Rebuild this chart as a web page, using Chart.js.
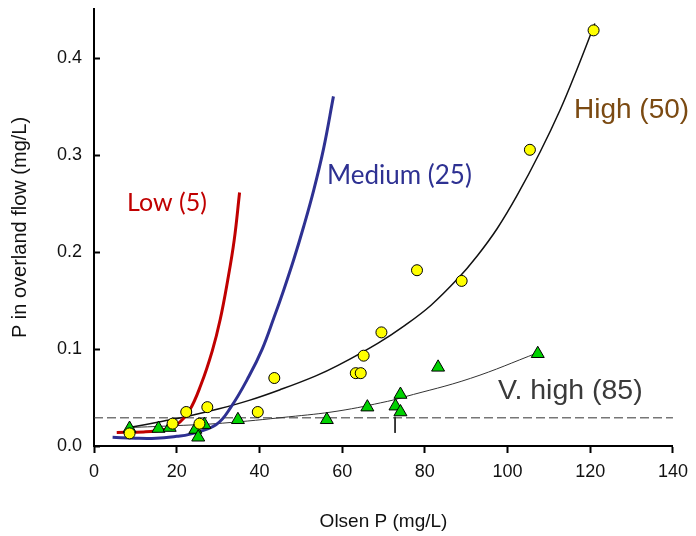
<!DOCTYPE html>
<html>
<head>
<meta charset="utf-8">
<script src="https://cdn.jsdelivr.net/npm/chart.js"></script>
<style>
  html, body { margin: 0; padding: 0; background: #fff; }
  #wrap { width: 696px; height: 536px; }
</style>
</head>
<body>
<div id="wrap"><canvas id="chart" width="696" height="536"></canvas></div>
<script>
const circleX = [8.6, 19.0, 22.3, 25.5, 27.4, 39.6, 43.6, 63.3, 64.5, 65.2, 69.5, 78.1, 88.9, 105.4, 120.8];
const circleY = [0.013, 0.023, 0.035, 0.023, 0.040, 0.035, 0.070, 0.075, 0.075, 0.093, 0.117, 0.181, 0.170, 0.305, 0.428];
const triX = [8.6, 15.6, 18.3, 24.5, 25.2, 26.7, 34.8, 56.3, 66.1, 72.9, 74.1, 74.1, 83.2, 107.3];
const triY = [0.018, 0.018, 0.019, 0.017, 0.009, 0.022, 0.027, 0.027, 0.040, 0.041, 0.053, 0.035, 0.081, 0.095];

// fitted curves
const lowX = [5.5, 12, 17, 20, 23, 25.9, 28.6, 30.5, 32.3, 33.9, 35.2];
const lowY = [0.014, 0.0145, 0.017, 0.022, 0.036, 0.0635, 0.098, 0.130, 0.170, 0.212, 0.261];
const medX = [4.5, 10, 15, 20, 23, 29.5, 33.1, 37.5, 40.7, 43.5, 45.9, 48.3, 50.7, 53.1, 55.5, 57.9];
const medY = [0.009, 0.008, 0.008, 0.010, 0.012, 0.022, 0.040, 0.072, 0.100, 0.132, 0.161, 0.192, 0.226, 0.263, 0.306, 0.360];
const highX = [8.5, 16, 23, 30, 37.5, 45, 53.5, 59, 68.7, 75.1, 81.5, 87.9, 92.7, 97.5, 102.3, 107.9, 112.7, 116.7, 121.1];
const highY = [0.019, 0.025, 0.031, 0.038, 0.047, 0.058, 0.072, 0.083, 0.106, 0.124, 0.145, 0.172, 0.196, 0.224, 0.258, 0.303, 0.346, 0.387, 0.435];
const vhighX = [8.5, 20, 31, 47, 59, 71, 75, 91, 107.3];
const vhighY = [0.019, 0.021, 0.0235, 0.030, 0.036, 0.046, 0.0505, 0.0696, 0.096];

// reference line and marker
const thresholdX = [0, 140];
const thresholdY = [0.029, 0.029];
const markX = [72.8, 72.8];
const markY = [0.030, 0.0135];

const yTicks = [0, 0.1, 0.2, 0.3, 0.4];

const pts = (xs, ys) => xs.map((x, i) => ({ x: x, y: ys[i] }));

const curve = (data, color, width, order) => ({
    type: 'line',
    data: data,
    borderColor: color,
    borderWidth: width,
    pointRadius: 0,
    fill: false,
    showLine: true,
    tension: 0.4,
    order: order
});

// curve labels and inward y ticks
const labelPlugin = {
    id: 'curveLabels',
    afterDraw(chart) {
        const ctx = chart.ctx;
        const y = chart.scales.y;
        ctx.save();
        ctx.strokeStyle = '#000';
        ctx.lineWidth = 2;
        yTicks.forEach(v => {
            const py = Math.round(y.getPixelForValue(v)) + 0.5;
            ctx.beginPath();
            ctx.moveTo(chart.chartArea.left, py);
            ctx.lineTo(chart.chartArea.left + 6, py);
            ctx.stroke();
        });
        const labels = [
            { text: 'Low (5)', x: 127, y: 203, color: '#c00000', font: '25px Lato' },
            { text: 'Medium (25)', x: 327, y: 176, color: '#2e3192', font: '26px Lato' },
            { text: 'High (50)', x: 574, y: 110, color: '#7b4a12', font: '28px "Liberation Sans"' },
            { text: 'V. high (85)', x: 498, y: 391, color: '#3a3a3a', font: '28.5px "Liberation Sans"' }
        ];
        ctx.textAlign = 'left';
        ctx.textBaseline = 'middle';
        labels.forEach(l => {
            ctx.font = l.font;
            ctx.fillStyle = l.color;
            ctx.fillText(l.text, l.x, l.y);
        });
        ctx.restore();
    }
};

new Chart(document.getElementById('chart'), {
    type: 'scatter',
    data: {
        datasets: [
            {
                data: pts(circleX, circleY),
                pointStyle: 'circle',
                pointRadius: 5.5,
                backgroundColor: '#ffff00',
                borderColor: '#000',
                borderWidth: 1,
                order: 0
            },
            {
                data: pts(triX, triY),
                pointStyle: 'triangle',
                pointRadius: 7.5,
                backgroundColor: '#00d200',
                borderColor: '#000',
                borderWidth: 1,
                order: 1
            },
            curve(pts(lowX, lowY), '#c00000', 3, 2),
            curve(pts(medX, medY), '#2e3192', 3, 3),
            curve(pts(highX, highY), '#111', 1.5, 4),
            curve(pts(vhighX, vhighY), '#333', 1, 5),
            {
                type: 'line',
                data: pts(thresholdX, thresholdY),
                borderColor: '#333',
                borderWidth: 1,
                borderDash: [9, 4],
                pointRadius: 0,
                order: 6
            },
            {
                type: 'line',
                data: pts(markX, markY),
                borderColor: '#222',
                borderWidth: 1,
                pointRadius: 0,
                order: 7
            }
        ]
    },
    options: {
        responsive: false,
        animation: false,
        layout: { padding: { top: 9, right: 19, bottom: 0, left: 0 } },
        plugins: {
            legend: { display: false },
            tooltip: { enabled: false }
        },
        scales: {
            x: {
                type: 'linear',
                min: 0,
                max: 140,
                ticks: {
                    stepSize: 20,
                    color: '#111',
                    padding: 8,
                    maxRotation: 0,
                    font: { family: '"Liberation Sans", Arial, sans-serif', size: 18 }
                },
                grid: {
                    drawOnChartArea: false,
                    drawTicks: true,
                    tickLength: 7,
                    tickWidth: 2,
                    tickColor: '#000'
                },
                border: { color: '#000', width: 2 },
                title: {
                    display: true,
                    text: 'Olsen P (mg/L)',
                    color: '#111',
                    padding: { top: 0, bottom: 3 },
                    font: { family: '"Liberation Sans", Arial, sans-serif', size: 19 }
                },
                afterFit(scale) { scale.height = 90; }
            },
            y: {
                type: 'linear',
                min: 0,
                max: 0.45,
                afterBuildTicks(scale) {
                    scale.ticks = yTicks.map(v => ({ value: v }));
                },
                ticks: {
                    color: '#111',
                    padding: 12,
                    callback: v => v.toFixed(1),
                    font: { family: '"Liberation Sans", Arial, sans-serif', size: 18 }
                },
                grid: {
                    drawOnChartArea: false,
                    drawTicks: false
                },
                border: { color: '#000', width: 2 },
                title: {
                    display: true,
                    text: 'P in overland flow (mg/L)',
                    color: '#111',
                    padding: { top: 8, bottom: 0 },
                    font: { family: '"Liberation Sans", Arial, sans-serif', size: 20 }
                },
                afterFit(scale) {
                    scale.width = 94;
                    scale.paddingTop = 0;
                    scale.paddingBottom = 0;
                }
            }
        }
    },
    plugins: [labelPlugin]
});
</script>
</body>
</html>
